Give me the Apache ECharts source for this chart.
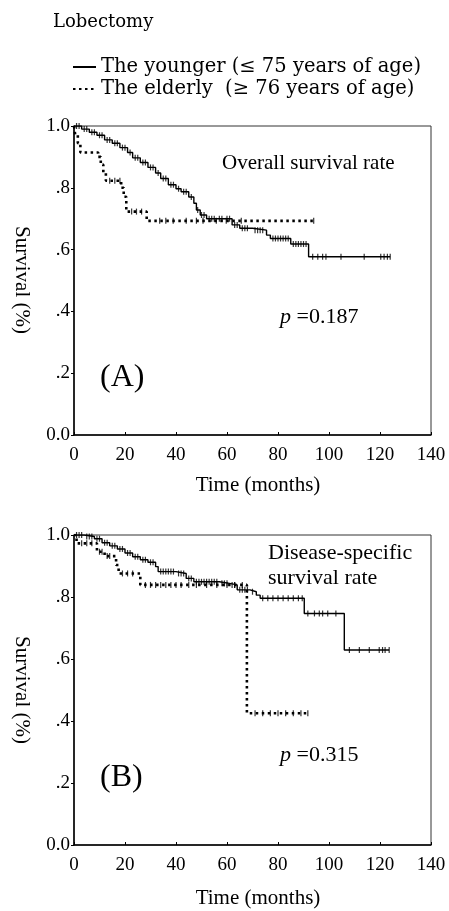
<!DOCTYPE html>
<html>
<head>
<meta charset="utf-8">
<script src="https://cdn.jsdelivr.net/npm/echarts@6/dist/echarts.min.js"></script>
<style>
  html, body { margin: 0; padding: 0; background: #fff; }
  #chart { width: 449px; height: 911px; }
</style>
</head>
<body>
<div id="chart"></div>
<script>
  var yTicks = ['0.0', '.2', '.4', '.6', '.8', '1.0'];
  var youngName = 'The younger (\u2264 75 years of age)';
  var oldName = 'The elderly  (\u2265 76 years of age)';

  // (A) overall survival - step times (months) and survival after the step
  var osYoungT = [0, 3, 6, 9, 12, 15, 18, 21, 23, 26, 29, 32, 34, 37, 40, 42, 45, 47, 48, 49.5, 52, 62, 65, 70, 75.5, 77, 85, 92, 124];
  var osYoungS = [1, 0.99, 0.98, 0.97, 0.955, 0.944, 0.93, 0.914, 0.897, 0.882, 0.866, 0.848, 0.83, 0.81, 0.797, 0.787, 0.77, 0.75, 0.728, 0.712, 0.70, 0.68, 0.669, 0.663, 0.647, 0.636, 0.618, 0.577, 0.577];
  var osYoungCens = [1, 2, 4, 5, 7, 8, 10, 11, 13, 14, 16, 17, 19, 20, 22, 24, 25, 27, 28, 30, 31, 33, 35, 36, 38, 39, 41, 43, 44, 46, 48.5, 50, 51, 53, 54, 55, 57, 58, 60, 61, 63, 64, 66, 67, 68, 71, 72, 73, 74, 78, 79, 80, 81, 82, 83, 84, 86, 87, 88, 89, 90, 91, 93.6, 95.6, 97.5, 98.8, 104.7, 113.8, 120.3, 121.6, 122.9, 124];
  var osOldT = [0, 0.5, 1.5, 2.5, 9.5, 10.5, 11.5, 12.5, 18.5, 19.5, 20.5, 28.5, 94];
  var osOldS = [1, 0.97, 0.944, 0.914, 0.90, 0.875, 0.848, 0.823, 0.80, 0.771, 0.723, 0.693, 0.693];
  var osOldCens = [14, 16, 18, 22.6, 24.5, 26.5, 33.6, 36, 38.9, 44, 48, 50.6, 55.8, 59.7, 65.6, 94];

  // (B) disease-specific survival
  var dsYoungT = [0, 4, 8, 11, 14, 17, 20, 23, 26, 29, 32, 33, 40, 44, 47, 57, 61, 64, 69, 71.5, 73, 90.3, 106, 123.6];
  var dsYoungS = [1, 0.995, 0.988, 0.975, 0.965, 0.955, 0.942, 0.93, 0.92, 0.912, 0.898, 0.882, 0.876, 0.86, 0.849, 0.844, 0.839, 0.823, 0.817, 0.806, 0.796, 0.747, 0.629, 0.629];
  var dsYoungCens = [1, 2, 3, 5, 6, 7, 9, 10, 12, 13, 15, 16, 18, 19, 21, 22, 24, 25, 27, 28, 30, 31, 34, 35, 36, 37, 38, 39, 41, 42, 43, 45, 46, 48, 49, 50, 51, 52, 53, 54, 55, 56, 58, 59, 60, 62, 63, 65, 66, 67, 68, 70, 74, 76, 78, 80, 82, 84, 86, 88, 89.5, 91.7, 94.3, 96.2, 97.5, 99.5, 102.7, 108, 111.9, 115.8, 119.7, 121, 122, 123.6];
  var dsOldT = [0, 1, 9, 12, 16.5, 17.5, 26, 67.8, 91.7];
  var dsOldS = [1, 0.973, 0.946, 0.932, 0.903, 0.876, 0.839, 0.425, 0.425];
  var dsOldCens = [3, 5, 7, 10, 11, 13, 14, 19, 21, 23, 28, 30, 32, 34, 36, 38, 40, 42, 45, 48, 52, 56, 60, 63, 66, 71, 74, 77, 80, 83, 86, 89, 91.7];

  function steps(t, s) {
    return t.map(function (x, i) { return [x, s[i]]; });
  }
  function censored(t, s, c) {
    return c.map(function (x) {
      var v = s[0];
      for (var i = 0; i < t.length; i++) if (t[i] <= x) v = s[i];
      return [x, v];
    });
  }

  var serif = 'Liberation Serif';
  var wide = 'DejaVu Serif';

  function xAx(i) {
    return {
      gridIndex: i, type: 'value', min: 0, max: 140, interval: 20,
      axisLine: { lineStyle: { color: '#000', width: 1.5 } },
      axisTick: { inside: true, length: 3, lineStyle: { color: '#000' } },
      axisLabel: { color: '#000', fontFamily: serif, fontSize: 19, margin: 11 },
      splitLine: { show: false }
    };
  }
  function yAx(i) {
    return {
      gridIndex: i, type: 'value', min: 0, max: 1, interval: 0.2,
      axisLine: { lineStyle: { color: '#000', width: 1.5 } },
      axisTick: { length: 3, lineStyle: { color: '#000' } },
      axisLabel: {
        color: '#000', fontFamily: serif, fontSize: 19, margin: 4,
        formatter: function (v) { return yTicks[Math.round(v / 0.2)]; }
      },
      splitLine: { show: false }
    };
  }
  function curve(name, i, data, dotted) {
    return {
      name: name, type: 'line', step: 'end', xAxisIndex: i, yAxisIndex: i,
      data: data, showSymbol: false, symbol: 'none',
      lineStyle: dotted ? { color: '#000', width: 2.6, type: [2.5, 3.5] } : { color: '#000', width: 1.4 },
      itemStyle: { color: '#000' }, z: 3
    };
  }
  function ticks(i, data) {
    return {
      type: 'scatter', xAxisIndex: i, yAxisIndex: i, data: data,
      symbol: 'rect', symbolSize: [1.2, 6], itemStyle: { color: '#000' }, silent: true, z: 4
    };
  }

  var chart = echarts.init(document.getElementById('chart'));
  chart.setOption({
    backgroundColor: '#fff',
    animation: false,
    legend: {
      data: [youngName, oldName], orient: 'vertical', left: 72, top: 57, padding: 0,
      itemWidth: 23, itemHeight: 10, itemGap: 2,
      itemStyle: { opacity: 0 },
      textStyle: { color: '#000', fontFamily: wide, fontSize: 19.5, lineHeight: 18 }
    },
    grid: [
      { left: 74, top: 126, width: 357, height: 309, show: true, borderColor: '#333', borderWidth: 1 },
      { left: 74, top: 535, width: 357, height: 310, show: true, borderColor: '#333', borderWidth: 1 }
    ],
    xAxis: [xAx(0), xAx(1)],
    yAxis: [yAx(0), yAx(1)],
    series: [
      curve(youngName, 0, steps(osYoungT, osYoungS), false),
      ticks(0, censored(osYoungT, osYoungS, osYoungCens)),
      curve(oldName, 0, steps(osOldT, osOldS), true),
      ticks(0, censored(osOldT, osOldS, osOldCens)),
      curve(youngName, 1, steps(dsYoungT, dsYoungS), false),
      ticks(1, censored(dsYoungT, dsYoungS, dsYoungCens)),
      curve(oldName, 1, steps(dsOldT, dsOldS), true),
      ticks(1, censored(dsOldT, dsOldS, dsOldCens))
    ],
    graphic: [
      { type: 'text', x: 53, y: 22, style: { text: 'Lobectomy', fontFamily: wide, fontSize: 18, fill: '#000', verticalAlign: 'middle' } },
      { type: 'text', x: 22, y: 280, rotation: -Math.PI / 2, style: { text: 'Survival (%)', fontFamily: serif, fontSize: 21, fill: '#000', align: 'center', verticalAlign: 'middle' } },
      { type: 'text', x: 22, y: 690, rotation: -Math.PI / 2, style: { text: 'Survival (%)', fontFamily: serif, fontSize: 21, fill: '#000', align: 'center', verticalAlign: 'middle' } },
      { type: 'text', x: 258, y: 485, style: { text: 'Time (months)', fontFamily: serif, fontSize: 21, fill: '#000', align: 'center', verticalAlign: 'middle' } },
      { type: 'text', x: 258, y: 898, style: { text: 'Time (months)', fontFamily: serif, fontSize: 21, fill: '#000', align: 'center', verticalAlign: 'middle' } },
      { type: 'text', x: 222, y: 163, style: { text: 'Overall survival rate', fontFamily: serif, fontSize: 21, fill: '#000', verticalAlign: 'middle' } },
      { type: 'text', x: 268, y: 566, style: { text: 'Disease-specific\nsurvival rate', fontFamily: serif, fontSize: 22, lineHeight: 25, fill: '#000', verticalAlign: 'middle' } },
      { type: 'text', x: 280, y: 317, style: { text: '{i|p} =0.187', fontFamily: serif, fontSize: 22, fill: '#000', verticalAlign: 'middle', rich: { i: { fontStyle: 'italic', fontFamily: serif, fontSize: 22 } } } },
      { type: 'text', x: 280, y: 755, style: { text: '{i|p} =0.315', fontFamily: serif, fontSize: 22, fill: '#000', verticalAlign: 'middle', rich: { i: { fontStyle: 'italic', fontFamily: serif, fontSize: 22 } } } },
      { type: 'text', x: 100, y: 378, style: { text: '(A)', fontFamily: serif, fontSize: 32, fill: '#000', verticalAlign: 'middle' } },
      { type: 'text', x: 100, y: 778, style: { text: '(B)', fontFamily: serif, fontSize: 32, fill: '#000', verticalAlign: 'middle' } }
    ]
  });
  window.addEventListener('resize', function () { chart.resize(); });
</script>
</body>
</html>
